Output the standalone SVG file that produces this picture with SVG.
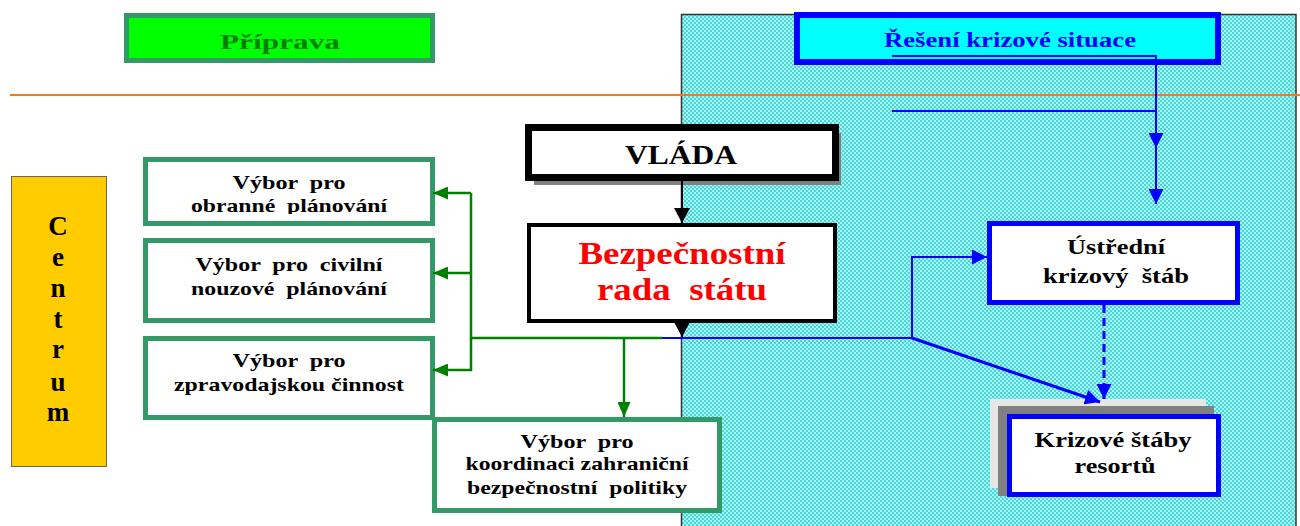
<svg xmlns="http://www.w3.org/2000/svg" width="1300" height="526" viewBox="0 0 1300 526">
<defs>
<pattern id="chk" width="4" height="4" patternUnits="userSpaceOnUse">
<rect width="4" height="4" fill="#b0f2f2"/>
<rect width="2" height="2" fill="#40dada"/>
<rect x="2" y="2" width="2" height="2" fill="#40dada"/>
</pattern>
<marker id="ag" markerUnits="userSpaceOnUse" markerWidth="15" markerHeight="13" refX="15" refY="6.5" orient="auto"><path d="M0,0 L15,6.5 L0,13 z" fill="#008000"/></marker>
<marker id="ak" markerUnits="userSpaceOnUse" markerWidth="15" markerHeight="16" refX="15" refY="8" orient="auto"><path d="M0,0 L15,8 L0,16 z" fill="#000"/></marker>
<marker id="ab" markerUnits="userSpaceOnUse" markerWidth="15" markerHeight="15" refX="15" refY="7.5" orient="auto"><path d="M0,0 L15,7.5 L0,15 z" fill="#0000ff"/></marker>
<clipPath id="c1"><rect x="148" y="162" width="282" height="52"/></clipPath>
</defs>
<style>
text{font-family:"Liberation Serif","Times New Roman",serif;font-weight:bold;text-anchor:middle;white-space:pre}
.gb{fill:#fff;stroke:#339966;stroke-width:5}
.bb{fill:#fff;stroke:#0000ff;stroke-width:5}
.t19{font-size:19px;fill:#000}
.t21{font-size:21px;fill:#000}
.gl{fill:none;stroke:#008000;stroke-width:2.5}
.bl{fill:none;stroke:#0000ff;stroke-width:2}
</style>
<rect id="zone" x="681.5" y="14.5" width="614.5" height="515" fill="url(#chk)" stroke="#333" stroke-width="1.5"/>
<line x1="10" y1="95" x2="1300" y2="95" stroke="#f47a20" stroke-width="1.8"/>

<g id="priprava">
<rect x="126.5" y="15.5" width="306" height="45" fill="#00ff00" stroke="#339966" stroke-width="5"/>
<text x="280" y="49" font-size="22" fill="#008000" textLength="120" lengthAdjust="spacingAndGlyphs">Příprava</text>
</g>
<g id="reseni">
<rect x="797" y="15" width="421" height="47" fill="#00ffff" stroke="#0000ff" stroke-width="6"/>
<text x="1010" y="47" font-size="20" fill="#0000ff" textLength="252" lengthAdjust="spacingAndGlyphs">Řešení krizové situace</text>
</g>
<g id="centrum">
<rect x="11.5" y="176.5" width="95" height="290" fill="#ffcc00" stroke="#666" stroke-width="1"/>
<g fill="#000">
<text x="58" y="235" font-size="27">C</text>
<text x="58" y="266" font-size="27">e</text>
<text x="58" y="297" font-size="27">n</text>
<text x="58" y="328" font-size="27">t</text>
<text x="58" y="358" font-size="27">r</text>
<text x="58" y="391" font-size="27">u</text>
<text x="58" y="421" font-size="27">m</text>
</g>
</g>
<g id="vlada">
<rect x="534" y="133" width="307" height="52" fill="#808080"/>
<rect x="528.5" y="127.5" width="307" height="50" fill="#fff" stroke="#000" stroke-width="7"/>
<text x="681" y="164" font-size="28" fill="#000" textLength="112" lengthAdjust="spacingAndGlyphs">VLÁDA</text>
</g>
<g id="bezpecnostni-rada">
<rect x="529" y="225" width="306" height="96" fill="#fff" stroke="#000" stroke-width="4"/>
<text x="682" y="264" font-size="31" fill="#ff0000" textLength="207" lengthAdjust="spacingAndGlyphs">Bezpečnostní</text>
<text x="682" y="300" font-size="31" fill="#ff0000" textLength="170" lengthAdjust="spacingAndGlyphs">rada  státu</text>
</g>
<g id="vybor-obranne">
<rect class="gb" x="145.5" y="159.5" width="287" height="64"/>
<g clip-path="url(#c1)">
<text class="t19" x="289" y="189" textLength="113" lengthAdjust="spacingAndGlyphs">Výbor  pro</text>
<text class="t19" x="289" y="212" textLength="196" lengthAdjust="spacingAndGlyphs">obranné  plánování</text>
</g>
</g>
<g id="vybor-civilni">
<rect class="gb" x="145.5" y="240.5" width="287" height="80"/>
<text class="t19" x="289" y="271" textLength="187" lengthAdjust="spacingAndGlyphs">Výbor  pro  civilní</text>
<text class="t19" x="289" y="295" textLength="196" lengthAdjust="spacingAndGlyphs">nouzové  plánování</text>
</g>
<g id="vybor-zpravodajsky">
<rect class="gb" x="145.5" y="338.5" width="287" height="79"/>
<text class="t19" x="289" y="367" textLength="113" lengthAdjust="spacingAndGlyphs">Výbor  pro</text>
<text class="t19" x="289" y="391" textLength="230" lengthAdjust="spacingAndGlyphs">zpravodajskou činnost</text>
</g>
<g id="vybor-koordinace">
<rect class="gb" x="434.5" y="419.5" width="285" height="91"/>
<text class="t19" x="577" y="448" textLength="113" lengthAdjust="spacingAndGlyphs">Výbor  pro</text>
<text class="t19" x="577" y="470" textLength="223" lengthAdjust="spacingAndGlyphs">koordinaci zahraniční</text>
<text class="t19" x="577" y="494" textLength="220" lengthAdjust="spacingAndGlyphs">bezpečnostní  politiky</text>
</g>
<g id="ustredni">
<rect class="bb" x="989.5" y="223.5" width="248" height="79"/>
<text class="t21" x="1116" y="254" textLength="98" lengthAdjust="spacingAndGlyphs">Ústřední</text>
<text class="t21" x="1116" y="283" textLength="146" lengthAdjust="spacingAndGlyphs">krizový  štáb</text>
</g>
<g id="krizove-staby">
<rect x="990" y="399" width="216" height="89" fill="#e6e6e6"/>
<rect x="998" y="406" width="216" height="90" fill="#808080"/>
<rect class="bb" x="1009.5" y="416.5" width="209" height="78"/>
<text class="t21" x="1113" y="447" textLength="157" lengthAdjust="spacingAndGlyphs">Krizové štáby</text>
<text class="t21" x="1115" y="473" textLength="81" lengthAdjust="spacingAndGlyphs">resortů</text>
</g>

<g id="connectors">
<path d="M682,181 V223" stroke="#000" stroke-width="2" fill="none" marker-end="url(#ak)"/>
<path d="M682,323 V337" stroke="#000" stroke-width="2" fill="none" marker-end="url(#ak)"/>
<path class="gl" d="M662,338 H471 V193"/>
<path class="gl" d="M471,193 H433" marker-end="url(#ag)"/>
<path class="gl" d="M471,273 H433" marker-end="url(#ag)"/>
<path class="gl" d="M471,338 V370 H433" marker-end="url(#ag)"/>
<path class="gl" d="M624,338 V417" marker-end="url(#ag)"/>
<path class="bl" d="M662,338 H912"/>
<path class="bl" d="M912,338 V257 H987" marker-end="url(#ab)"/>
<path d="M912,338 L1100,402" fill="none" stroke="#0000ff" stroke-width="3" marker-end="url(#ab)"/>
<path d="M1104,305 V399" fill="none" stroke="#0000ff" stroke-width="3" stroke-dasharray="8,5" marker-end="url(#ab)"/>
<path class="bl" d="M892,56 H1156 V148" marker-end="url(#ab)"/>
<path class="bl" d="M892,111 H1156"/>
<path class="bl" d="M1156,148 V204" marker-end="url(#ab)"/>
</g>
</svg>
